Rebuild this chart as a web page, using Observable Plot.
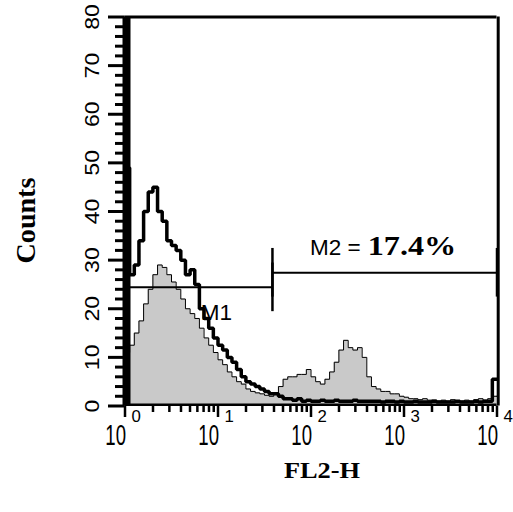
<!DOCTYPE html>
<html><head><meta charset="utf-8">
<script src="https://cdn.jsdelivr.net/npm/d3@7"></script>
<script src="https://cdn.jsdelivr.net/npm/@observablehq/plot@0.6"></script>
<style>
html,body{margin:0;padding:0;background:#fff;}
</style>
</head><body><div id="chart"></div>
<script>
// Histogram channels: each bin spans 0.05 decade, starting at 10^0
const binWidthDecades = 0.05;

// Sample (gray filled) histogram counts
const sampleCounts = [
  11, 12.5, 15, 17.5, 21, 24, 27, 29, 28.5, 27,
  25.5, 24, 22, 20, 19, 18, 16, 14, 12.5, 11,
  9.5, 8.5, 7, 6, 5, 4.5, 3.5, 3, 2.7, 2.5,
  2.2, 2, 2.5, 4, 5.5, 6, 6, 6.5, 6.5, 7.5,
  6, 5, 4.5, 5.5, 7, 9, 11.5, 13.5, 12, 11.5,
  12, 10, 6, 4, 3.5, 3, 3, 2.5, 2.5, 2,
  1.8, 1.5, 1.5, 1.3, 1.5, 1.2, 1.2, 1, 1.2, 1,
  1.3, 1, 1, 1.2, 1, 1.3, 1.5, 1.2, 1.5, 2
];

// Control (thick black outline) histogram counts
const controlCounts = [
  49, 27, 29, 34, 40, 44, 45, 40, 38, 34,
  33, 32, 30, 27, 28, 25, 20, 18, 16, 14,
  12.5, 11.5, 10, 9, 7.5, 6, 5, 4.5, 4, 3.5,
  3, 2.5, 2.5, 2, 1.5, 1.5, 1.2, 1.5, 1, 1.2,
  1, 1, 1.2, 1, 1, 1.2, 1, 1, 1, 1.2,
  1, 1, 1, 1, 1, 0.8, 1, 1, 0.8, 1,
  0.8, 0.8, 1, 0.8, 0.8, 0.8, 1, 0.8, 0.8, 0.8,
  0.8, 1, 0.8, 0.8, 0.8, 1, 0.8, 1, 1, 5.5
];

// Markers (gates)
const markerNames = ["M1", "M2 ="];
const markerValues = ["", "17.4%"];
const markerStart = [1, 38.5];
const markerEnd = [38.5, 10000];
const markerLevel = [24.4, 27.4];
const markerBarHalf = 5;

// Axis ticks
const xMajorTicks = [1, 10, 100, 1000, 10000];
const xTickBase = ["10", "10", "10", "10", "10"];
const xTickExponent = ["0", "1", "2", "3", "4"];
const xMinorTicks = [2,3,4,5,6,7,8,9,20,30,40,50,60,70,80,90,200,300,400,500,600,700,800,900,2000,3000,4000,5000,6000,7000,8000,9000];
const yMajorTicks = [0, 10, 20, 30, 40, 50, 60, 70, 80];
const yMinorTicks = [2,4,6,8,12,14,16,18,22,24,26,28,32,34,36,38,42,44,46,48,52,54,56,58,62,64,66,68,72,74,76,78];

const xLabel = "FL2-H";
const yLabel = "Counts";

function rows(counts) {
  const r = counts.map((c, i) => ({x: 10 ** (i * binWidthDecades), y: c}));
  r.push({x: 10000, y: counts[counts.length - 1]});
  return r;
}
const sampleRows = rows(sampleCounts);
const controlRows = rows(controlCounts);
const idx = markerNames.map((_, i) => i);
const bars = [];
idx.forEach(i => { bars.push({x: markerStart[i], y: markerLevel[i]}); bars.push({x: markerEnd[i], y: markerLevel[i]}); });
const gm = i => Math.sqrt(markerStart[i] * markerEnd[i]);

const chart = Plot.plot({
  width: 513,
  height: 512,
  marginLeft: 124.5,
  marginRight: 16.5,
  marginTop: 16.5,
  marginBottom: 106.5,
  style: {fontFamily: "Liberation Sans", background: "white", color: "black"},
  x: {type: "log", domain: [1, 10000]},
  y: {domain: [0, 80]},
  marks: [
    Plot.areaY(sampleRows, {x: "x", y: "y", curve: "step-after", fill: "#c9c9c9"}),
    Plot.lineY(sampleRows, {x: "x", y: "y", curve: "step-after", stroke: "black", strokeWidth: 1, strokeLinejoin: "miter", strokeLinecap: "square"}),
    Plot.lineY(controlRows, {x: "x", y: "y", curve: "step-after", stroke: "black", strokeWidth: 3.5, strokeLinejoin: "miter", strokeLinecap: "square"}),
    // marker lines
    Plot.ruleY(idx, {y: i => markerLevel[i], x1: i => markerStart[i], x2: i => markerEnd[i], stroke: "black", strokeWidth: 2}),
    Plot.ruleX(bars, {x: "x", y1: d => d.y - markerBarHalf, y2: d => d.y + markerBarHalf, stroke: "black", strokeWidth: 2.5}),
    // marker labels
    Plot.text([0], {x: i => gm(i), y: i => markerLevel[i], text: i => markerNames[i], textAnchor: "start", lineAnchor: "bottom", dx: 2, dy: 33, fontSize: 22.5, fontFamily: "Liberation Sans"}),
    Plot.text([1], {x: i => gm(i), y: i => markerLevel[i], text: i => markerNames[i], textAnchor: "end", lineAnchor: "bottom", dx: -24, dy: -17.5, fontSize: 22.5, fontFamily: "Liberation Sans"}),
    Plot.text([1], {x: i => gm(i), y: i => markerLevel[i], text: i => markerValues[i], textAnchor: "start", lineAnchor: "bottom", dx: -17, dy: -17.5, fontSize: 28, fontWeight: "bold", fontFamily: "Liberation Serif", className: "pct"}),
    // frame
    Plot.ruleX([1], {x: d => d, stroke: "black", strokeWidth: 8, dx: 1.5}),
    Plot.ruleX([10000], {x: d => d, stroke: "black", strokeWidth: 3, dx: 1.2}),
    Plot.ruleY([80], {y: d => d, stroke: "black", strokeWidth: 3, x1: 1, x2: 10000}),
    Plot.ruleY([0], {y: d => d, stroke: "black", strokeWidth: 2.5, dy: -1.2}),
    // ticks
    Plot.axisX(xMajorTicks, {tickSize: 11.5, strokeWidth: 2.5, tickFormat: () => "", label: null}),
    Plot.axisX(xMinorTicks, {tickSize: 6.5, strokeWidth: 2.5, tickFormat: () => "", label: null}),
    Plot.axisY(yMajorTicks, {tickSize: 16.5, strokeWidth: 3, tickFormat: () => "", label: null}),
    Plot.axisY(yMinorTicks, {tickSize: 9.5, strokeWidth: 3, tickFormat: () => "", label: null}),
    // tick labels
    Plot.text(xMajorTicks, {x: d => d, text: (d, i) => xTickBase[i], frameAnchor: "bottom", textAnchor: "end", lineAnchor: "bottom", dx: 1, dy: 38.5, fontSize: 30, className: "xbase"}),
    Plot.text(xMajorTicks, {x: d => d, text: (d, i) => xTickExponent[i], frameAnchor: "bottom", textAnchor: "start", lineAnchor: "bottom", dx: 6.5, dy: 16, fontSize: 16, className: "xexp"}),
    Plot.text(yMajorTicks, {y: d => d, text: d => String(d), frameAnchor: "left", rotate: -90, textAnchor: "middle", lineAnchor: "bottom", dx: -26.5, fontSize: 21, className: "ylab"}),
    // axis titles
    Plot.text([yLabel], {text: d => d, frameAnchor: "left", rotate: -90, textAnchor: "middle", lineAnchor: "middle", dx: -98.5, dy: 9, fontSize: 27, fontWeight: "bold", fontFamily: "Liberation Serif", className: "ytitle"}),
    Plot.text([xLabel], {text: d => d, frameAnchor: "bottom", textAnchor: "middle", lineAnchor: "bottom", dx: 11, dy: 72, fontSize: 24, fontWeight: "bold", fontFamily: "Liberation Serif", className: "xtitle"})
  ]
});

// Horizontal stretch/compression of glyphs to match the reference's font proportions
function stretch(selector, sx) {
  d3.select(chart).selectAll(selector).each(function() {
    const t = d3.select(this);
    const tr = t.attr("transform") || "";
    t.attr("transform", (tr + ` scale(${sx},1)`).trim());
  });
}
stretch(".xbase text", 0.62);
stretch(".xexp text", 1.05);
stretch(".ylab text", 1.1);
stretch(".pct text", 1.15);
stretch(".xtitle text", 1.1);
stretch(".ytitle text", 1.04);

document.getElementById("chart").appendChild(chart);
</script>
</body></html>
